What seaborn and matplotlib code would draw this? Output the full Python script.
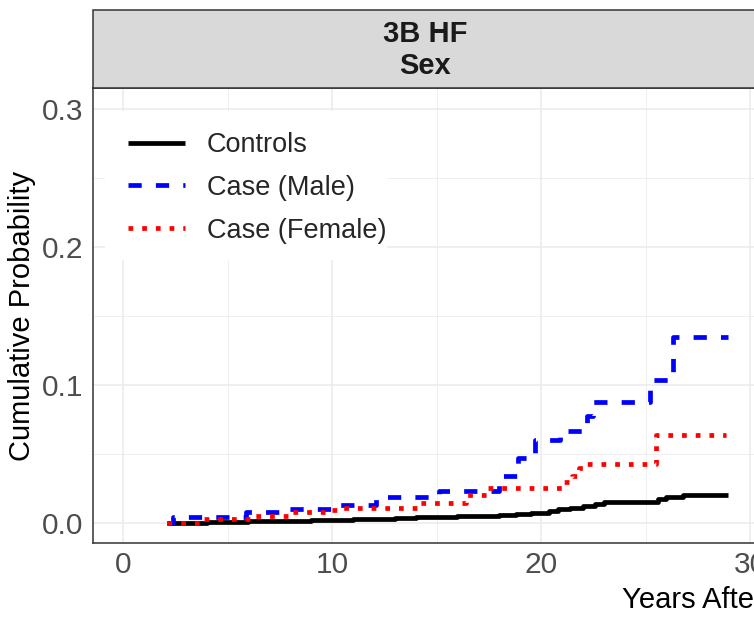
import numpy as np
import pandas as pd
import seaborn as sns
import matplotlib
matplotlib.use("Agg")
import matplotlib.pyplot as plt
from matplotlib.lines import Line2D
from matplotlib.patches import Rectangle
from matplotlib.ticker import MultipleLocator

## Data ##
groups = ["Controls", "Case (Male)", "Case (Female)"]

ctrl_years = [2.1, 3.0, 4.0, 5.0, 6.0, 7.0, 8.0, 9.0, 10.0, 11.0, 12.0, 13.0, 14.0, 15.0,
              16.0, 17.0, 18.0, 18.8, 19.5, 20.0, 20.4, 20.8, 21.4, 22.0, 22.6, 23.0,
              25.6, 26.0, 26.8, 28.95]
ctrl_prob = [0.0, 0.0003, 0.0006, 0.0009, 0.0012, 0.0015, 0.0018, 0.0021, 0.0024, 0.0027,
             0.0031, 0.0036, 0.0041, 0.0045, 0.0048, 0.0052, 0.0057, 0.0063, 0.0070, 0.0076,
             0.0088, 0.0100, 0.0108, 0.0120, 0.0135, 0.0155, 0.0172, 0.0185, 0.0205, 0.0205]

male_years = [2.1, 2.4, 5.9, 7.7, 10.1, 12.1, 15.1, 18.0, 18.9, 19.7, 20.9, 22.2, 22.5,
              25.2, 26.3, 28.95]
male_prob = [0.0, 0.0043, 0.008, 0.010, 0.013, 0.019, 0.023, 0.034, 0.047, 0.060, 0.067,
             0.0775, 0.0877, 0.1036, 0.1345, 0.1345]

female_years = [2.1, 3.7, 6.2, 7.9, 9.8, 10.3, 14.1, 16.4, 17.4, 21.1, 21.5, 21.8, 22.2,
                25.5, 28.85]
female_prob = [0.0, 0.0028, 0.005, 0.008, 0.0094, 0.011, 0.0145, 0.020, 0.025, 0.030, 0.034,
               0.040, 0.043, 0.064, 0.064]

x_ticks = [0, 10, 20, 30]
y_ticks = [0.0, 0.1, 0.2, 0.3]
y_ticklabels = ["0.0", "0.1", "0.2", "0.3"]

df = pd.concat([
    pd.DataFrame({"years": ctrl_years, "prob": ctrl_prob, "group": groups[0]}),
    pd.DataFrame({"years": male_years, "prob": male_prob, "group": groups[1]}),
    pd.DataFrame({"years": female_years, "prob": female_prob, "group": groups[2]}),
], ignore_index=True)

colors = {"Controls": "black", "Case (Male)": "#0000FF", "Case (Female)": "#FF0000"}
dash_map = {"Controls": "", "Case (Male)": (2.8, 3.0), "Case (Female)": (1.0, 1.9)}
lw = 3.4

sns.set_style("white")
plt.rcParams["font.family"] = ["Liberation Sans", "DejaVu Sans"]

fig = plt.figure(figsize=(7.54, 6.17), dpi=100)
W, H = 754, 617
# panel spans px 93..757 horizontally (cut by the image edge), 88..543 vertically
ax = fig.add_axes([93 / W, 1 - 543 / H, (757 - 93) / W, (543 - 88) / H])

sns.lineplot(data=df, x="years", y="prob", hue="group", style="group",
             hue_order=groups, style_order=groups, palette=colors, dashes=dash_map,
             estimator=None, sort=False, drawstyle="steps-post", linewidth=lw,
             legend=False, ax=ax)
for ln in ax.get_lines():
    ln.set_solid_capstyle("butt")
    ln.set_dash_capstyle("butt")

ax.set_xlim(-1.435, 30.33)
ax.set_ylim(-0.0145, 0.3152)
ax.set_xticks(x_ticks)
ax.set_yticks(y_ticks)
ax.set_yticklabels(y_ticklabels)
ax.xaxis.set_minor_locator(MultipleLocator(5))
ax.yaxis.set_minor_locator(MultipleLocator(0.05))
ax.set_axisbelow(True)
ax.grid(which="major", color="#EBEBEB", lw=1.1)
ax.grid(which="minor", color="#EBEBEB", lw=0.55)
ax.tick_params(which="major", length=4, width=1.0, color="#333333",
               labelsize=21.5, labelcolor="#4D4D4D", pad=3)
ax.tick_params(axis="x", pad=1.5)
ax.tick_params(which="minor", length=0)
for side in ["left", "bottom", "top", "right"]:
    ax.spines[side].set_color("#333333")
    ax.spines[side].set_linewidth(1.1)

ax.set_xlabel("")
ax.set_ylabel("Cumulative Probability", fontsize=21, color="black", labelpad=4)

# white legend background covering the grid
ax.add_patch(Rectangle((-0.86, 0.1906), 13.5, 0.108, facecolor="white",
                       edgecolor="none", zorder=1))
handles = [Line2D([0], [0], color=colors[g], lw=lw, solid_capstyle="butt",
                  dash_capstyle="butt",
                  linestyle="-" if dash_map[g] == "" else (0, dash_map[g]))
           for g in groups]
fig.legend(handles, groups, loc="upper left", bbox_to_anchor=(128 / W, 1 - 132 / H),
           frameon=False, fontsize=19.5, handlelength=2.1, handletextpad=0.8,
           labelspacing=0.62, borderpad=0, borderaxespad=0)

# facet strip
fig.add_artist(Rectangle((93 / W, 1 - 88 / H), (800 - 93) / W, 78 / H,
                         transform=fig.transFigure, facecolor="#D9D9D9",
                         edgecolor="#333333", lw=1.1))
fig.text((93 + 757) / 2 / W, 1 - 50 / H, "3B HF\nSex", ha="center", va="center",
         fontsize=21, fontweight="bold", color="#1A1A1A", linespacing=1.2)

fig.text(622 / W, 1 - 608 / H, "Years After Diagnosis", ha="left", va="baseline",
         fontsize=21, color="black")

fig.savefig("out.png", dpi=100)
